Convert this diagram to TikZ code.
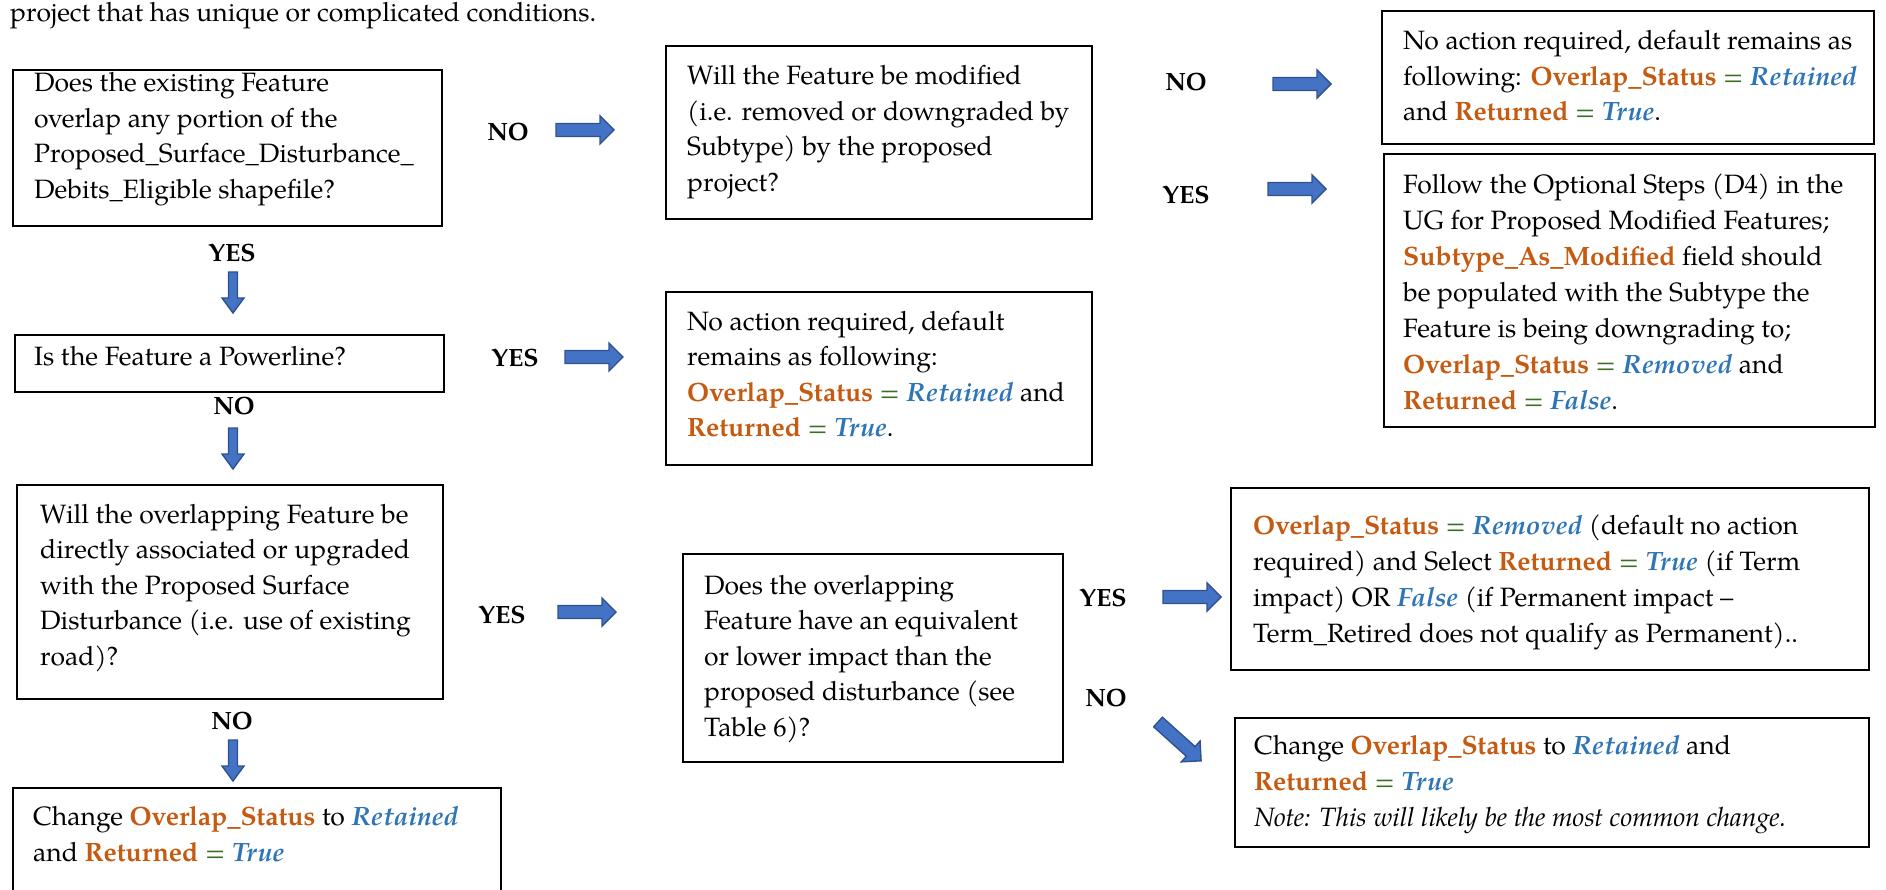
\documentclass[tikz,border=0pt]{standalone}
\usepackage{fontspec}
\setmainfont{texgyrepagella}[Extension=.otf, UprightFont=*-regular, BoldFont=*-bold, ItalicFont=*-italic, BoldItalicFont=*-bolditalic]
\definecolor{orng}{HTML}{C55A11}
\definecolor{blu}{HTML}{2E75B6}
\definecolor{grn}{HTML}{3B6E22}
\definecolor{afill}{HTML}{4472C4}
\definecolor{adraw}{HTML}{2F528F}
\newcommand{\ORG}[1]{\textcolor{orng}{\textbf{#1}}}
\newcommand{\BLU}[1]{\textcolor{blu}{\textbf{\textit{#1}}}}
\newcommand{\EQ}{\textcolor{grn}{=}}
\tikzset{
  box/.style={draw=black, line width=1.8pt, anchor=north west, inner sep=0pt},
  txt/.style={anchor=base west, align=left, inner sep=0pt, font=\fontsize{26.5}{35.5}\selectfont},
  wide/.style={font=\fontsize{26.5}{36}\selectfont},
  lbl/.style={font=\fontsize{25}{30}\selectfont\bfseries, inner sep=0pt},
  arrowsty/.style={fill=afill, draw=adraw, line width=1.4pt, line join=miter},
  harrow/.pic={\draw[arrowsty] (0,-6.5) -- (44,-6.5) -- (44,-14) -- (58,0) -- (44,14) -- (44,6.5) -- (0,6.5) -- cycle;},
  darrow/.pic={\draw[arrowsty] (-4.5,0) -- (-4.5,26) -- (-11,26) -- (0,41) -- (11,26) -- (4.5,26) -- (4.5,0) -- cycle;}
}
\begin{document}
\begin{tikzpicture}[x=1pt,y=-1pt]
\useasboundingbox (0,0) rectangle (1886,890);
\clip (0,0) rectangle (1886,890);
% top text
\node[txt] (top) at (10,22) {project that has unique or complicated conditions.};
% boxes
\node[box, minimum width=429pt, minimum height=156pt] (b1) at (12,69) {};
\node[box, minimum width=426pt, minimum height=173pt] (b2) at (665,45) {};
\node[box, minimum width=492pt, minimum height=133pt] (b3) at (1381,10) {};
\node[box, minimum width=491pt, minimum height=273pt] (b4) at (1383,153) {};
\node[box, minimum width=429pt, minimum height=57pt] (b5) at (14,334) {};
\node[box, minimum width=426pt, minimum height=173pt] (b6) at (665,291) {};
\node[box, minimum width=426pt, minimum height=214pt] (b7) at (16,484) {};
\node[box, minimum width=380pt, minimum height=208pt] (b8) at (682,553) {};
\node[box, minimum width=638pt, minimum height=182pt] (b9) at (1230,487) {};
\node[box, minimum width=634pt, minimum height=129pt] (b10) at (1234,717) {};
\node[box, minimum width=488pt, minimum height=120pt] (b11) at (12,787) {};
% texts (anchored at the baseline of their last line)
\node[txt] (t1) at (34,198.5) {Does the existing Feature\\overlap any portion of the\\Proposed\_Surface\_Disturbance\_\\Debits\_Eligible shapefile?};
\node[txt] (t2) at (687,191.5) {Will the Feature be modified\\(i.e. removed or downgraded by\\Subtype) by the proposed\\project?};
\node[txt] (t3) at (1403,121) {No action required, default remains as\\following: \ORG{Overlap\_Status} \EQ{} \BLU{Retained}\\and \ORG{Returned} \EQ{} \BLU{True}.};
\node[txt, wide] (t4) at (1403,409) {Follow the Optional Steps (D4) in the\\UG for Proposed Modified Features;\\\ORG{Subtype\_As\_Modified} field should\\be populated with the Subtype the\\Feature is being downgrading to;\\\ORG{Overlap\_Status} \EQ{} \BLU{Removed} and\\\ORG{Returned} \EQ{} \BLU{False}.};
\node[txt] (t5) at (34,365) {Is the Feature a Powerline?};
\node[txt] (t6) at (687,436.5) {No action required, default\\remains as following:\\\ORG{Overlap\_Status} \EQ{} \BLU{Retained} and\\\ORG{Returned} \EQ{} \BLU{True}.};
\node[txt] (t7) at (40,665) {Will the overlapping Feature be\\directly associated or upgraded\\with the Proposed Surface\\Disturbance (i.e. use of existing\\road)?};
\node[txt] (t8) at (704,736) {Does the overlapping\\Feature have an equivalent\\or lower impact than the\\proposed disturbance (see\\Table 6)?};
\node[txt, wide] (t9) at (1253,642) {\ORG{Overlap\_Status} \EQ{} \BLU{Removed} (default no action\\required) and Select \ORG{Returned} \EQ{} \BLU{True} (if Term\\impact) OR \BLU{False} (if Permanent impact --\\Term\_Retired does not qualify as Permanent)..};
\node[txt, wide] (t10) at (1254,826) {Change \ORG{Overlap\_Status} to \BLU{Retained} and\\\ORG{Returned} \EQ{} \BLU{True}\\\textit{Note: This will likely be the most common change.}};
\node[txt] (t11) at (33,861) {Change \ORG{Overlap\_Status} to \BLU{Retained}\\and \ORG{Returned} \EQ{} \BLU{True}};
% labels
\node[lbl] (l1) at (508,132) {NO};
\node[lbl] (l2) at (1186,82) {NO};
\node[lbl] (l3) at (1186,195) {YES};
\node[lbl] (l4) at (232,253) {YES};
\node[lbl] (l5) at (515,358) {YES};
\node[lbl] (l6) at (234,406) {NO};
\node[lbl] (l7) at (502,615) {YES};
\node[lbl] (l8) at (1103,598) {YES};
\node[lbl] (l9) at (1106,698) {NO};
\node[lbl] (l10) at (232,721) {NO};
% block arrows
\pic at (556,130) {harrow};
\pic at (1273,84) {harrow};
\pic at (1268,189) {harrow};
\pic at (565,357) {harrow};
\pic at (558,612) {harrow};
\pic at (1163,597) {harrow};
\pic[rotate=-42] at (1158,722) {harrow};
\pic at (233,272) {darrow};
\pic at (233,428) {darrow};
\pic at (233,740) {darrow};
\end{tikzpicture}
\end{document}
